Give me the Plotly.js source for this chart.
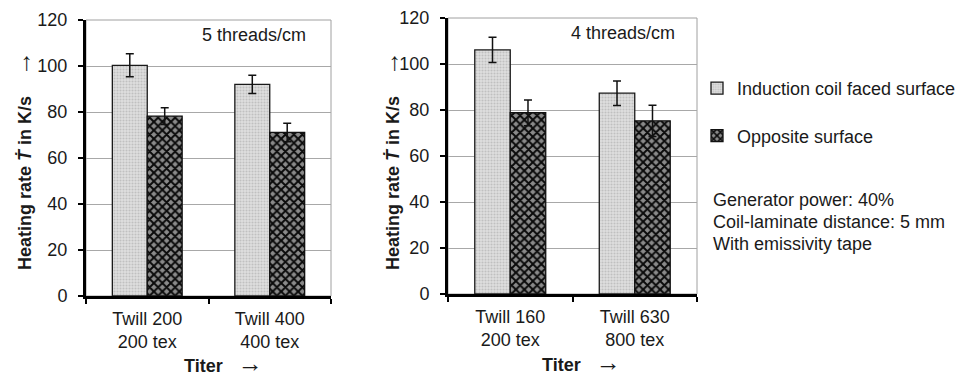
<!DOCTYPE html>
<html>
<head>
<meta charset="utf-8">
<script src="https://cdn.plot.ly/plotly-3.0.1.min.js"></script>
<style>html,body{margin:0;padding:0;background:#fff;}#chart{width:966px;height:379px;}</style>
</head>
<body>
<div id="chart"></div>
<script>
// ---- data ----
const categoriesLeft = ['Twill 200<br>200 tex', 'Twill 400<br>400 tex'];
const categoriesRight = ['Twill 160<br>200 tex', 'Twill 630<br>800 tex'];
const seriesNames = ['Induction coil faced surface', 'Opposite surface'];
const coilLeft = [100.3, 92.0];
const coilLeftErr = [5.0, 4.0];
const oppLeft = [78.2, 71.1];
const oppLeftErr = [3.6, 4.0];
const coilRight = [106.1, 87.3];
const coilRightErr = [5.5, 5.3];
const oppRight = [78.8, 75.3];
const oppRightErr = [5.6, 6.8];
const yTickVals = [0, 20, 40, 60, 80, 100, 120];
const panelLabels = ['5 threads/cm', '4 threads/cm'];
const noteLines = ['Generator power: 40%', 'Coil-laminate distance: 5 mm', 'With emissivity tape'];

const FONT = 'Liberation Sans, Arial, sans-serif';
const lightStyle = {
  color: '#d8d8d8',
  line: {color: '#1a1a1a', width: 1.3},
  pattern: {shape: '.', size: 3, solidity: 0.4, fgcolor: '#c0c0c0', bgcolor: '#e0e0e0', fillmode: 'replace'}
};
const darkStyle = {
  color: '#444',
  line: {color: '#111', width: 1.3},
  pattern: {shape: 'x', size: 6, solidity: 0.55, fgcolor: '#0a0a0a', bgcolor: '#8a8a8a', fillmode: 'replace'}
};
const errStyle = (arr) => ({type: 'data', array: arr, visible: true, color: '#111', thickness: 1.5, width: 4});

const traces = [
  {type: 'bar', x: categoriesLeft, y: coilLeft, error_y: errStyle(coilLeftErr), marker: lightStyle,
   name: seriesNames[0], legendgroup: 'a', xaxis: 'x', yaxis: 'y'},
  {type: 'bar', x: categoriesLeft, y: oppLeft, error_y: errStyle(oppLeftErr), marker: darkStyle,
   name: seriesNames[1], legendgroup: 'b', xaxis: 'x', yaxis: 'y'},
  {type: 'bar', x: categoriesRight, y: coilRight, error_y: errStyle(coilRightErr), marker: lightStyle,
   name: seriesNames[0], legendgroup: 'a', showlegend: false, xaxis: 'x2', yaxis: 'y2'},
  {type: 'bar', x: categoriesRight, y: oppRight, error_y: errStyle(oppRightErr), marker: darkStyle,
   name: seriesNames[1], legendgroup: 'b', showlegend: false, xaxis: 'x2', yaxis: 'y2'}
];

const xAxisBase = {
  type: 'category', range: [-0.5, 1.5], showline: true, linecolor: '#000', linewidth: 3,
  ticks: 'outside', tickson: 'boundaries', ticklen: 5, tickwidth: 2, tickcolor: '#000',
  showgrid: false, zeroline: false, tickfont: {family: FONT, size: 18, color: '#1a1a1a'},
  ticklabelstandoff: 4
};
const yAxisBase = {
  range: [0, 120], tickvals: yTickVals, showline: true, linecolor: '#000', linewidth: 3,
  ticks: 'outside', ticklen: 5, tickwidth: 2, tickcolor: '#000',
  showgrid: true, gridcolor: '#a8a8a8', gridwidth: 1, zeroline: false,
  tickfont: {family: FONT, size: 18, color: '#1a1a1a'}, ticklabelstandoff: 7
};

const W = 966, H = 379;
const px = v => v / W, py = v => 1 - v / H;
const nb = n => '\u00a0'.repeat(n);
const arrow = '<span style="font-family:Liberation Sans;font-size:25px">\u2192</span>';

function note(text, x, y, opts) {
  return Object.assign({xref: 'paper', yref: 'paper', x: px(x), y: py(y), xanchor: 'center', yanchor: 'middle',
    showarrow: false, text: text, font: {family: FONT, size: 18, color: '#1a1a1a'}}, opts || {});
}
const yTitle = '<b>Heating rate <i>\u1E6A</i> in K/s</b>' + nb(4) + arrow;

const layout = {
  width: W, height: H, margin: {l: 0, r: 0, t: 0, b: 0},
  paper_bgcolor: '#fff', plot_bgcolor: '#fff',
  barmode: 'group', bargap: 0.43, bargroupgap: 0,
  font: {family: FONT, color: '#1a1a1a'},
  xaxis: Object.assign({}, xAxisBase, {domain: [px(86), px(331)], anchor: 'y'}),
  yaxis: Object.assign({}, yAxisBase, {domain: [py(296), py(20)], anchor: 'x'}),
  xaxis2: Object.assign({}, xAxisBase, {domain: [px(448), px(697)], anchor: 'y2'}),
  yaxis2: Object.assign({}, yAxisBase, {domain: [py(294), py(18)], anchor: 'x2'}),
  showlegend: true,
  legend: {x: px(697), y: py(70), xanchor: 'left', yanchor: 'top', traceorder: 'grouped',
           tracegroupgap: 21, font: {family: FONT, size: 18, color: '#1a1a1a'},
           bgcolor: 'rgba(0,0,0,0)', borderwidth: 0},
  shapes: [
    {type: 'rect', xref: 'x domain', yref: 'y domain', x0: 0, x1: 1, y0: 0, y1: 1,
     line: {color: '#a0a0a0', width: 1}, layer: 'below'},
    {type: 'rect', xref: 'x2 domain', yref: 'y2 domain', x0: 0, x1: 1, y0: 0, y1: 1,
     line: {color: '#a0a0a0', width: 1}, layer: 'below'}
  ],
  annotations: [
    note(yTitle, 22, 161, {textangle: -90}),
    note(yTitle, 390, 161, {textangle: -90}),
    note('<b>Titer</b>' + nb(3) + arrow, 223, 363),
    note('<b>Titer</b>' + nb(3) + arrow, 581, 362),
    note(panelLabels[0], 200, 35, {xanchor: 'left'}),
    note(panelLabels[1], 569, 33, {xanchor: 'left'}),
    note(noteLines[0], 711, 200, {xanchor: 'left'}),
    note(noteLines[1], 711, 222, {xanchor: 'left'}),
    note(noteLines[2], 711, 244, {xanchor: 'left'})
  ]
};

Plotly.newPlot('chart', traces, layout, {displayModeBar: false, staticPlot: true});
</script>
</body>
</html>
